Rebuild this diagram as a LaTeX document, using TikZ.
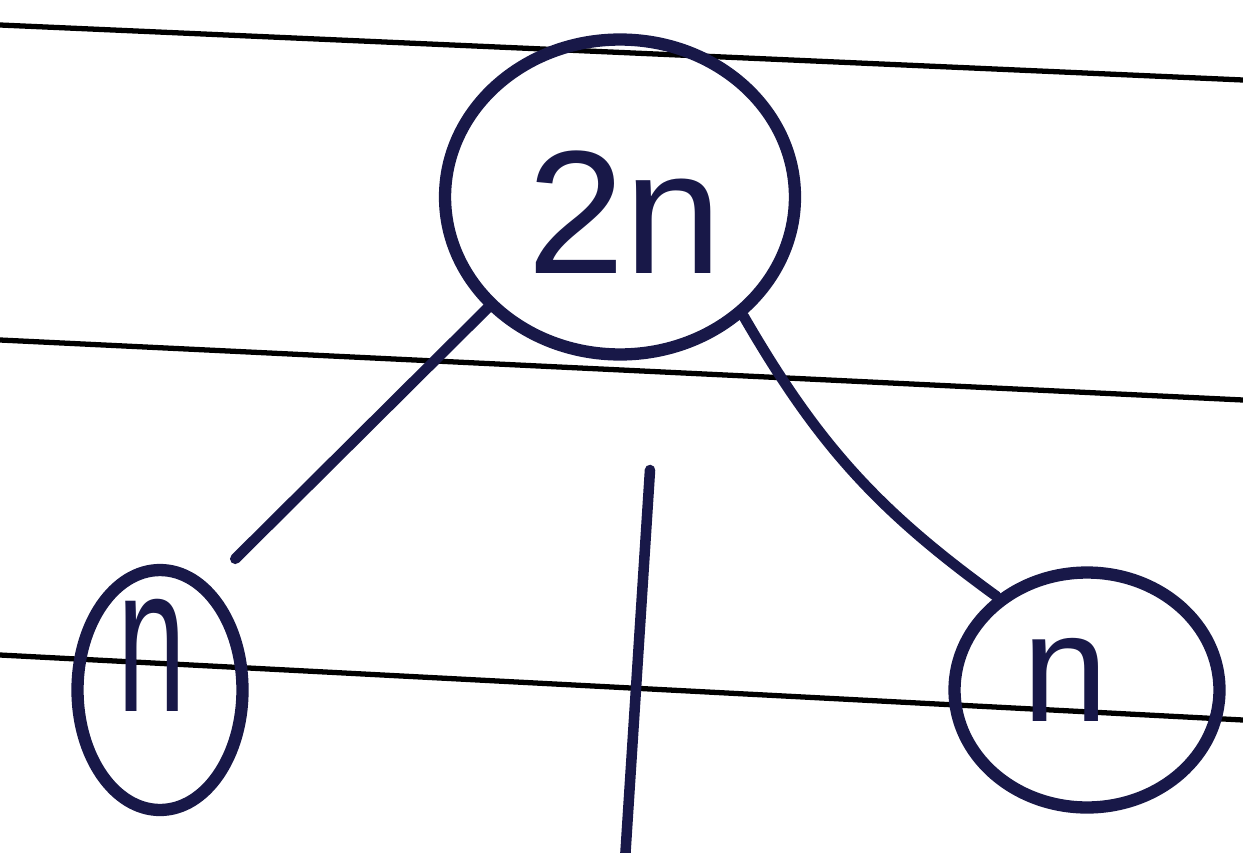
\documentclass[tikz,border=0pt]{standalone}
\usepackage{fontspec}
\setmainfont{Liberation Sans}
\usepackage{xcolor}
\usetikzlibrary{shapes.geometric, positioning}

\definecolor{inkblue}{RGB}{24,24,72}

\begin{document}
\begin{tikzpicture}[
    x=0.02cm, y=-0.02cm,
    every node/.style={font=\fontsize{100}{100}\selectfont, text=inkblue},
    small/.style={font=\fontsize{88}{88}\selectfont},
    treenode/.style={ellipse, draw=inkblue, line width=7pt, inner sep=0pt},
    branch/.style={draw=inkblue, line width=6pt, line cap=round},
    ruling/.style={draw=black, line width=3pt}
]
\useasboundingbox (0,0) rectangle (1243,852);

% notebook ruling
\draw[ruling] (0,25) -- (1243,80);
\draw[ruling] (0,340) -- (1243,400);
\draw[ruling] (0,655) -- (1243,720);

% tree
\node[treenode, minimum width=7cm, minimum height=6.3cm] (root) at (620,197) {};
\node at (625,212) {2n};
\node[treenode, minimum width=3.3cm, minimum height=4.8cm] (leftn) at (160,690) {};
\node[small, xscale=0.8, yscale=1.35] at (152,655) {n};
\node[treenode, minimum width=5.3cm, minimum height=4.7cm] (rightn) at (1087,690) {};
\node[small] at (1065,680) {n};

\coordinate (stemtop) at (650,470);
\coordinate (stembot) at (625,860);

\draw[branch, shorten >=0.74cm] (root.220) -- (leftn.65);
\draw[branch] (root.316) to[bend right=12] (rightn.134);
\draw[branch] (stemtop) -- (stembot);
\end{tikzpicture}
\end{document}
